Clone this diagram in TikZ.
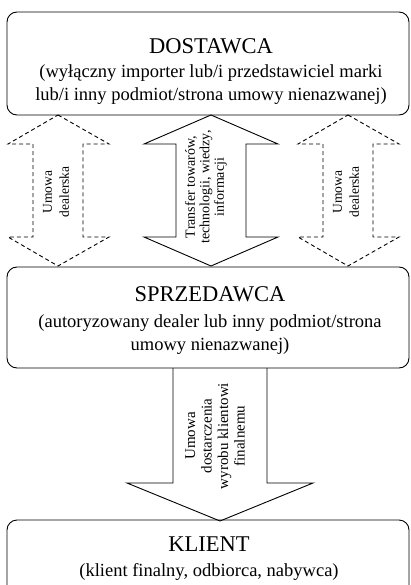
\documentclass[tikz,border=0pt]{standalone}
\usepackage{fontspec}
\setmainfont{Liberation Serif}
\usetikzlibrary{positioning}

\tikzset{
  box/.style={draw, rounded corners=10pt, line width=0.9pt, minimum width=402pt},
  boxtext/.style={anchor=north, inner sep=0pt, align=center, font=\fontsize{18.5}{23}\selectfont},
  title/.style={font=\fontsize{22.5}{23}\selectfont},
  blockarrow/.style={draw, line width=0.9pt, line join=miter},
  dasharrow/.style={blockarrow, dash pattern=on 4pt off 3pt},
  arrowtext/.style={rotate=90, align=center, inner sep=0pt}
}

\begin{document}
\begin{tikzpicture}[x=1pt,y=-1pt]
        \useasboundingbox (0,0) rectangle (410,585);
        \clip (0,0) rectangle (410,585);
        % boxes
        \node[box, minimum height=103pt] (dost) at (208,63.5) {};
        \node[box, minimum height=101pt] (sprz) at (208,317.5) {};
        \node[box, minimum height=84pt] (klient) at (208,562) {};
        \node[boxtext] (dosttxt) at (211,38)
          {{\fontsize{22.5}{23}\selectfont DOSTAWCA}\\[1pt]
           (wyłączny importer lub/i przedstawiciel marki\\
           lub/i inny podmiot/strona umowy nienazwanej)};
        \node[boxtext] (sprztxt) at (210,286)
          {{\fontsize{22.5}{23}\selectfont SPRZEDAWCA}\\[3pt]
           (autoryzowany dealer lub inny podmiot/strona\\
           umowy nienazwanej)};
        \node[boxtext] (klienttxt) at (209,537)
          {{\fontsize{22.5}{23}\selectfont KLIENT}\\[2pt]
           (klient finalny, odbiorca, nabywca)};
        % dealer agreements (dashed)
        \foreach \x in {58,348} {
          \draw[dasharrow] (\x,115) -- (\x+51,144) -- (\x+25,144) -- (\x+25,237)
            -- (\x+51,237) -- (\x,266) -- (\x-50,237) -- (\x-25,237)
            -- (\x-25,144) -- (\x-50,144) -- cycle;
          \node[arrowtext, font=\fontsize{13.5}{17}\selectfont] (umowa\x) at (\x-2,192)
            {Umowa\\dealerska};
        }
        % transfer
        \draw[blockarrow] (211,115) -- (278,144) -- (246,144) -- (246,237)
          -- (278,237) -- (211,266) -- (144,237) -- (176,237)
          -- (176,144) -- (144,144) -- cycle;
        \node[arrowtext, font=\fontsize{14}{14.5}\selectfont] (transfer) at (206,187)
          {Transfer towarów,\\technologii, wiedzy,\\informacji};
        % delivery
        \draw[blockarrow] (173,368) -- (173,483) -- (127,483) -- (220,521)
          -- (313,483) -- (267,483) -- (267,368);
        \node[arrowtext, font=\fontsize{15}{16.5}\selectfont] (dostawa) at (215,436)
          {Umowa\\dostarczenia\\wyrobu klientowi\\finalnemu};
    \end{tikzpicture}
\end{document}
